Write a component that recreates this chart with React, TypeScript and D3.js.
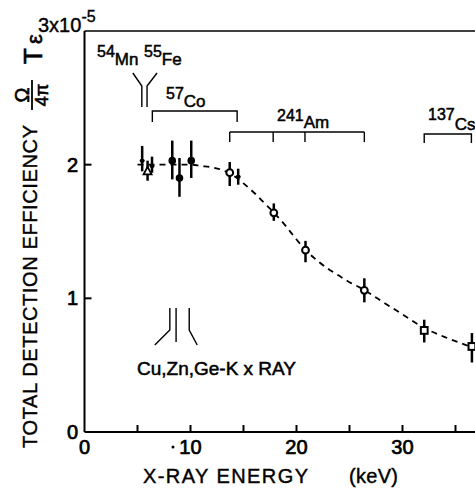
import React from "react";
import * as d3 from "d3";

// ---- data ----
const energies = [5.44, 5.95, 6.37, 8.28, 8.96, 10.07, 13.7, 14.5, 17.86, 20.85, 26.4, 32.05, 36.55];
const efficiency = [2.03, 1.95, 1.99, 2.03, 1.9, 2.03, 1.94, 1.91, 1.64, 1.36, 1.06, 0.76, 0.64];
const errLow = [1.95, 1.88, 1.94, 1.89, 1.76, 1.9, 1.84, 1.85, 1.58, 1.27, 0.97, 0.67, 0.52];
const errHigh = [2.14, 2.03, 2.06, 2.18, 2.05, 2.18, 2.02, 1.97, 1.71, 1.43, 1.15, 0.84, 0.74];
const markers = ["dot", "triangle", "dot", "filled", "filled", "filled", "open", "dot", "open", "open", "open", "square", "square"];

const curveEnergy = [5.0, 8, 10, 11, 12, 13, 14, 15, 16, 17, 18, 19, 20, 21, 22, 23, 24, 25, 26, 28, 30, 32, 34, 36, 37];
const curveValue = [2.0, 2.0, 2.0, 1.99, 1.98, 1.96, 1.92, 1.86, 1.79, 1.71, 1.63, 1.54, 1.44, 1.35, 1.28, 1.22, 1.17, 1.12, 1.08, 0.98, 0.88, 0.78, 0.71, 0.65, 0.62];

const xTicks = [5, 10, 15, 20, 25, 30, 35];
const xTickLabels = [
  { v: 0, t: "0" },
  { v: 10, t: "10" },
  { v: 20, t: "20" },
  { v: 30, t: "30" },
];
const yTicks = [1, 2];
const yTickLabels = ["0", "1", "2"];

const mnFeLines = [5.41, 5.9];
const co57Lines = [6.4, 14.4];
const am241Lines = [13.7, 17.8, 20.8, 26.4];
const cs137Lines = [32.05, 36.5];
const kxLines = [8.05, 8.64, 9.88];

const W = 475;
const H = 489;
const FONT = "'Liberation Sans', Arial, sans-serif";

export default function App() {
  const x = d3.scaleLinear().domain([0, 36.84]).range([84.5, 475]);
  const y = d3.scaleLinear().domain([0, 3]).range([432, 31]);

  const line = d3
    .line<number>()
    .x((_, i) => x(curveEnergy[i]))
    .y((d) => y(d))
    .curve(d3.curveMonotoneX);

  const marker = (m: string, cx: number, cy: number, i: number) => {
    if (m === "filled") return <circle key={i} cx={cx} cy={cy} r={3.8} fill="#000" />;
    if (m === "open")
      return <circle key={i} cx={cx} cy={cy} r={3.4} fill="#fff" stroke="#000" strokeWidth={2} />;
    if (m === "square")
      return <rect key={i} x={cx - 3.4} y={cy - 3.4} width={6.8} height={6.8} fill="#fff" stroke="#000" strokeWidth={2} />;
    if (m === "triangle")
      return (
        <path key={i} d={`M${cx},${cy - 4.5}L${cx + 4},${cy + 3}L${cx - 4},${cy + 3}Z`} fill="#fff" stroke="#000" strokeWidth={1.8} />
      );
    return <ellipse key={i} cx={cx} cy={cy} rx={2.6} ry={2} fill="#000" />;
  };

  const txt = { fontFamily: FONT, fill: "#000" } as const;

  return (
    <svg width={W} height={H} style={{ position: "absolute", left: 0, top: 0, background: "#fff" }}>
      <rect x={0} y={0} width={W} height={H} fill="#fff" />
      {/* frame */}
      <g stroke="#000" strokeWidth={2} fill="none">
        <line x1={x(0)} x2={x(0)} y1={y(3)} y2={y(0)} />
        <line x1={x(0)} x2={W} y1={y(0)} y2={y(0)} />
        <line x1={x(0)} x2={W} y1={y(3)} y2={y(3)} strokeWidth={1.6} />
        {xTicks.map((t) => (
          <line key={t} x1={x(t)} x2={x(t)} y1={y(0)} y2={y(0) - 7} />
        ))}
        {yTicks.map((t) => (
          <line key={t} x1={x(0)} x2={x(0) + 7} y1={y(t)} y2={y(t)} />
        ))}
      </g>

      {/* tick labels */}
      {xTickLabels.map((d) => (
        <text key={d.v} x={x(d.v)} y={454} textAnchor="middle" fontSize={20} {...txt} stroke="#000" strokeWidth={0.7}>
          {d.t}
        </text>
      ))}
      <circle cx={173} cy={447} r={1.5} fill="#000" />
      {yTickLabels.map((t, i) => (
        <text key={t} x={78} y={y(i) + 7} textAnchor="end" fontSize={20} {...txt} stroke="#000" strokeWidth={0.7}>
          {t}
        </text>
      ))}

      {/* axis titles */}
      <text x={143} y={483} fontSize={20} {...txt} textLength={165} lengthAdjust="spacing" stroke="#000" strokeWidth={0.4}>
        X-RAY ENERGY
      </text>
      <text x={349} y={483} fontSize={20} {...txt} textLength={49} lengthAdjust="spacing" stroke="#000" strokeWidth={0.4}>
        (keV)
      </text>
      <text
        transform={`translate(37,448) rotate(-90)`}
        fontSize={20}
        {...txt}
        textLength={323}
        lengthAdjust="spacing"
        stroke="#000"
        strokeWidth={0.4}
      >
        TOTAL DETECTION EFFICIENCY
      </text>
      <g transform="translate(32,95) rotate(-90)">
        <line x1={-15} x2={15} y1={0} y2={0} stroke="#000" strokeWidth={1.8} />
        <text x={0} y={-3} textAnchor="middle" fontSize={20} {...txt} stroke="#000" strokeWidth={0.6}>
          Ω
        </text>
        <text x={0} y={16} textAnchor="middle" fontSize={18} {...txt} stroke="#000" strokeWidth={0.6}>
          4π
        </text>
        <text x={31} y={10} fontSize={26} {...txt} stroke="#000" strokeWidth={0.6}>
          T<tspan dx={4} fontSize={22}>ε</tspan>
        </text>
      </g>
      <text x={38} y={32} fontSize={20} {...txt} stroke="#000" strokeWidth={0.4}>
        3x10
        <tspan dy={-10} fontSize={16}>-5</tspan>
      </text>

      {/* dashed fit curve */}
      <path d={line(curveValue) || ""} fill="none" stroke="#000" strokeWidth={1.8} strokeDasharray="6,5" />

      {/* error bars and points */}
      <g stroke="#000" strokeWidth={2.5}>
        {energies.map((e, i) => (
          <line key={i} x1={x(e)} x2={x(e)} y1={y(errLow[i])} y2={y(errHigh[i])} />
        ))}
      </g>
      {energies.map((e, i) => marker(markers[i], x(e), y(efficiency[i]), i))}

      {/* source annotations */}
      <g stroke="#000" strokeWidth={1.4} fill="none">
        <path d={`M${x(mnFeLines[0]) - 9},73L${x(mnFeLines[0])},86L${x(mnFeLines[0])},107`} />
        <path d={`M${x(mnFeLines[1]) + 10},73L${x(mnFeLines[1])},86L${x(mnFeLines[1])},107`} />
        <path d={`M${x(co57Lines[0])},122L${x(co57Lines[0])},111L${x(co57Lines[1])},111L${x(co57Lines[1])},122`} />
        <path d={`M${x(am241Lines[0])},132L${x(am241Lines[am241Lines.length - 1])},132`} />
        {am241Lines.map((e) => (
          <line key={e} x1={x(e)} x2={x(e)} y1={132} y2={142} />
        ))}
        <path d={`M${x(cs137Lines[0])},143L${x(cs137Lines[0])},134L${x(cs137Lines[1])},134L${x(cs137Lines[1])},143`} />
        <path d={`M${x(kxLines[0])},308L${x(kxLines[0])},330L${x(kxLines[0]) - 15},345`} />
        <path d={`M${x(kxLines[1])},308L${x(kxLines[1])},342`} />
        <path d={`M${x(kxLines[2])},308L${x(kxLines[2])},330L${x(kxLines[2]) + 8},345`} />
      </g>

      <g fontSize={16} {...txt} stroke="#000" strokeWidth={0.5}>
        <text x={97} y={57}>
          54<tspan dy={8} fontSize={17}>Mn</tspan>
        </text>
        <text x={144} y={57}>
          55<tspan dy={8} fontSize={17}>Fe</tspan>
        </text>
        <text x={166} y={99}>
          57<tspan dy={8} fontSize={17}>Co</tspan>
        </text>
        <text x={277} y={121}>
          241<tspan dy={7} fontSize={17}>Am</tspan>
        </text>
        <text x={428} y={120}>
          137<tspan dy={10} fontSize={17}>Cs</tspan>
        </text>
        <text x={137} y={375} fontSize={18} textLength={159} lengthAdjust="spacingAndGlyphs">
          Cu,Zn,Ge-K  x RAY
        </text>
      </g>
    </svg>
  );
}
